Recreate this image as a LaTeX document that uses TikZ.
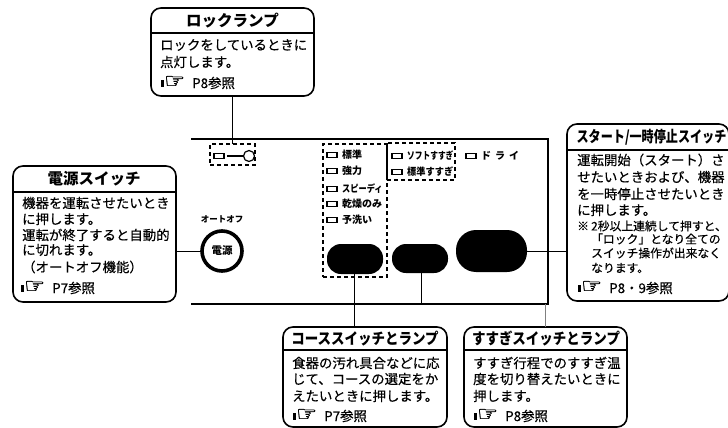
\documentclass[tikz,border=0pt]{standalone}
\usepackage{fontspec}
\setmainfont{Noto Sans CJK JP}
\newfontfamily\symfont[FakeBold=1.2]{DejaVu Sans}
\newfontfamily\medfont[FakeBold=0.35]{Noto Sans CJK JP}
\tikzset{
  calloutbox/.style={draw=black,line width=1.6pt,rounded corners=10pt,fill=white,inner sep=0pt,outer sep=0pt,anchor=north west},
  titletext/.style={inner sep=0pt,font=\fontsize{15.5}{15.5}\selectfont\bfseries,text=black},
  bodytext/.style={inner sep=0pt,anchor=west,font=\medfont\fontsize{13.4}{13.4}\selectfont,text=black},
  notetext/.style={inner sep=0pt,anchor=west,font=\medfont\fontsize{11.8}{11.8}\selectfont,text=black},
  smalltext/.style={inner sep=0pt,anchor=west,font=\fontsize{10}{10}\selectfont\bfseries,text=black},
  lamp/.style={draw=black,line width=1.1pt,minimum width=10pt,minimum height=5.5pt,inner sep=0pt,outer sep=0pt,anchor=west},
  dashbox/.style={draw=black,dashed,dash pattern=on 4pt off 3pt,line width=1.1pt,inner sep=0pt,outer sep=0pt,anchor=north west},
  oval/.style={fill=black,rounded corners=14pt,inner sep=0pt,outer sep=0pt,anchor=north west},
  conn/.style={draw=black,line width=1pt},
  panel/.style={draw=black,line width=1.7pt},
  divider/.style={draw=black,line width=1.1pt}
}
% name, x, y, w, h, divider y
\newcommand{\callbox}[6]{%
  \node[calloutbox,minimum width=#4pt,minimum height=#5pt] (#1) at (#2,#3) {};
  \draw[divider] (#2,#6) -- ({#2+#4},#6);
}
\newcommand{\handref}[4]{% name, x, y, text
  \fill (#2,#3-3.5) rectangle ++(2.6,7);
  \node[inner sep=0pt,anchor=west,font=\symfont\fontsize{21}{21}\selectfont] (#1h) at (#2+3,#3-1) {\scalebox{1.12}[1]{☞}};
  \node[bodytext] (#1t) at (#2+31,#3) {#4};
}
\begin{document}
\begin{tikzpicture}[x=1pt,y=-1pt]
\useasboundingbox (0,0) rectangle (728,428);
% panel
\coordinate (ptl) at (191,139);
\coordinate (ptr) at (548,139);
\coordinate (pbr) at (548,304);
\coordinate (pbl) at (191,304);
\draw[panel] (ptl) -- (ptr) -- (pbr) -- (pbl);
% callouts
\callbox{lockbox}{151}{8}{163}{88}{33}
\callbox{powerbox}{13}{166}{163}{136}{192}
\callbox{startbox}{567}{124}{162}{177}{150}
\callbox{coursebox}{283}{327}{164}{100}{350}
\callbox{rinsebox}{464}{327}{163}{100}{350}
% titles
\node[titletext] (lockt) at (232.5,20.5) {ロックランプ};
\node[titletext] (powert) at (94,179) {電源スイッチ};
\node[titletext] (startt) at (651.5,137) {\scalebox{0.78}[1]{スタート/一時停止スイッチ}};
\node[titletext] (courset) at (365,339) {\scalebox{0.87}[1]{コーススイッチとランプ}};
\node[titletext] (rinset) at (546,339) {\scalebox{0.87}[1]{すすぎスイッチとランプ}};
% lock body
\node[bodytext] (l1) at (160,45) {ロックをしているときに};
\node[bodytext] (l2) at (160,62) {点灯します。};
\handref{lh}{161}{83}{P8参照}
% power body
\node[bodytext] (p1) at (22,203) {機器を運転させたいとき};
\node[bodytext] (p2) at (22,219) {に押します。};
\node[bodytext] (p3) at (22,235) {運転が終了すると自動的};
\node[bodytext] (p4) at (22,250) {に切れます。};
\node[bodytext] (p5) at (22,267) {（オートオフ機能）};
\handref{ph}{21}{288}{P7参照}
% start body
\node[bodytext] (s1) at (577,160) {運転開始（スタート）さ};
\node[bodytext] (s2) at (577,177) {せたいときおよび、機器};
\node[bodytext] (s3) at (577,194) {を一時停止させたいとき};
\node[bodytext] (s4) at (577,210) {に押します。};
\node[notetext] (n0) at (577,226) {※};
\node[notetext] (n1) at (591,226) {2秒以上連続して押すと、};
\node[notetext] (n2) at (591,239) {「ロック」となり全ての};
\node[notetext] (n3) at (591,253) {スイッチ操作が出来なく};
\node[notetext] (n4) at (591,268) {なります。};
\handref{sh}{578}{288}{P8・9参照}
% course body
\node[bodytext] (c1) at (292,363) {食器の汚れ具合などに応};
\node[bodytext] (c2) at (292,379) {じて、コースの選定をか};
\node[bodytext] (c3) at (292,396) {えたいときに押します。};
\handref{ch}{293}{416}{P7参照}
% rinse body
\node[bodytext] (r1) at (473,363) {すすぎ行程でのすすぎ温};
\node[bodytext] (r2) at (473,379) {度を切り替えたいときに};
\node[bodytext] (r3) at (473,396) {押します。};
\handref{rh}{474}{416}{P8参照}
% panel items: lock lamp
\node[dashbox,minimum width=45pt,minimum height=21pt] (lockdash) at (210,144) {};
\node[lamp] (locklamp) at (214,156) {};
\node[draw=black,line width=1.2pt,circle,minimum size=11pt,inner sep=0pt,outer sep=0pt] (keyhead) at (249,156) {};
\draw[line width=2.4pt] (227,156) -- (keyhead.west);
% course group
\node[dashbox,minimum width=64pt,minimum height=133pt] (coursedash) at (323,144) {};
\node[lamp] (cl1) at (327,155) {};
\node[lamp] (cl2) at (327,171) {};
\node[lamp] (cl3) at (327,189) {};
\node[lamp] (cl4) at (327,204) {};
\node[lamp] (cl5) at (327,220) {};
\node[smalltext] (ct1) at (342,155) {標準};
\node[smalltext] (ct2) at (342,171) {強力};
\node[smalltext] (ct3) at (342,189) {\scalebox{0.82}[1]{スピーディ}};
\node[smalltext] (ct4) at (342,204) {乾燥のみ};
\node[smalltext] (ct5) at (342,220) {予洗い};
% rinse group
\node[dashbox,minimum width=68pt,minimum height=37pt] (rinsedash) at (387,143) {};
\node[lamp] (rl1) at (392,156) {};
\node[lamp] (rl2) at (392,172) {};
\node[smalltext] (rt1) at (407,156) {\scalebox{0.77}[1]{ソフトすすぎ}};
\node[smalltext] (rt2) at (407,172) {\scalebox{0.92}[1]{標準すすぎ}};
\node[lamp] (dl) at (466,156) {};
\node[smalltext] (dt) at (481,156) {ド\hspace{4pt}ラ\hspace{4pt}イ};
% buttons
\node[oval,minimum width=56pt,minimum height=30pt] (courseoval) at (327,244) {};
\node[oval,minimum width=56pt,minimum height=29pt] (rinseoval) at (392,244) {};
\node[oval,rounded corners=20pt,minimum width=71pt,minimum height=42pt] (startoval) at (456,230) {};
\node[draw=black,line width=3.6pt,circle,minimum size=40pt,inner sep=0pt,outer sep=0pt,font=\fontsize{10.5}{10.5}\selectfont\bfseries] (powerbtn) at (222,251) {電源};
\node[inner sep=0pt,font=\fontsize{8.5}{8.5}\selectfont\bfseries] (autooff) at (222,219) {オートオフ};
% connectors
\draw[conn] (lockbox.south) -- (lockdash.north -| lockbox.south);
\draw[conn] (powerbtn.west -| powerbox.east) -- (powerbtn.west);
\draw[conn] (startoval.east) -- (startoval.east -| startbox.west);
\draw[conn] (coursebox.north -| 354,0) -- (354,273);
\coordinate (rcorner) at (421,304);
\coordinate (rdown) at (545,304);
\draw[conn] (421,273) -- (rcorner) -- (rdown);
\draw[draw=gray,line width=1pt] (rdown) -- (545,327);
\end{tikzpicture}
\end{document}
